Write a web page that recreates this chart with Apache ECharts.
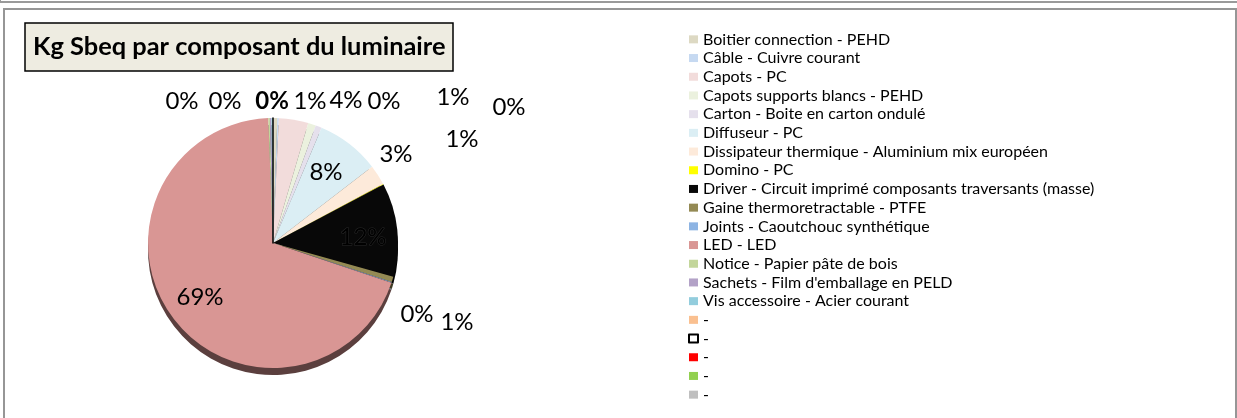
<!DOCTYPE html>
<html><head><meta charset="utf-8">
<script src="https://cdn.jsdelivr.net/npm/echarts@6/dist/echarts.min.js"></script>
<style>
html,body{margin:0;padding:0;background:#fff;width:1237px;height:418px;overflow:hidden;}
#topline{position:absolute;left:0;top:-20px;width:1237px;height:23px;border:1px solid #9a9a9a;border-width:0 0 2px 1px;box-sizing:border-box}
#frame{position:absolute;left:3px;top:8px;width:1234px;height:430px;border:2px solid #969696;box-sizing:border-box}
#chart{position:absolute;left:0;top:0;width:1237px;height:418px}
</style></head>
<body>
<div id="topline"></div><div id="frame"></div><div id="chart"></div>
<script>
// ---- data ----
const titleText = 'Kg Sbeq par composant du luminaire';
const categories = [
  'Boitier connection - PEHD',
  'Câble - Cuivre courant',
  'Capots - PC',
  'Capots supports blancs - PEHD',
  'Carton - Boite en carton ondulé',
  'Diffuseur - PC',
  'Dissipateur thermique - Aluminium mix européen',
  'Domino - PC',
  'Driver - Circuit imprimé composants traversants (masse)',
  'Gaine thermoretractable - PTFE',
  'Joints - Caoutchouc synthétique',
  'LED - LED',
  'Notice - Papier pâte de bois',
  "Sachets - Film d'emballage en PELD",
  'Vis accessoire - Acier courant',
  '-', '- ', '-  ', '-   ', '-    '
];
const values = [0.55, 0.2, 3.8, 1.0, 0.8, 8.2, 2.6, 0.1, 12.1, 0.7, 0.1, 69.2, 0.2, 0.2, 0.2, 0, 0, 0, 0, 0];

// ---- styles / layout ----
const sliceColors = ['#DDD9C3','#C6D9F1','#F2DCDB','#EBF1DE','#E5E0EC','#DBEEF4','#FDEADA','#FFFF00','#080808','#948A54','#8DB4E3','#D99694','#C3D69B','#B3A2C7','#93CDDD','#FAC090','#FFFFFF','#FF0000','#92D050','#BFBFBF'];
// label anchor points (text centres) for each slice label, Excel-like placement
const labelSpots = [[310,101],[384,101],[346,100],[453,97],[462,139],[326,172],[396,154],[509,107],[363,237],[457,322],[417,314],[200,297],[182,101],[225,101],[272,101]];
const boldLabel = 14;
const darkLabel = 8;
const outlinedItem = 16;
const pieCenter = [273, 243];
const pieRadius = 125;
const rimDrop = 7;

function darken(hex, f) {
  const n = parseInt(hex.slice(1), 16);
  const r = Math.round(((n >> 16) & 255) * f), g = Math.round(((n >> 8) & 255) * f), b = Math.round((n & 255) * f);
  return 'rgb(' + r + ',' + g + ',' + b + ')';
}

const mainData = categories.map((name, i) => {
  const item = { name: name, value: values[i], itemStyle: { color: sliceColors[i] } };
  if (i === outlinedItem) item.itemStyle = { color: '#FFFFFF', borderColor: '#000', borderWidth: 1.5 };
  if (i >= labelSpots.length) item.label = { show: false };
  if (i === boldLabel) item.label = { fontWeight: 'bold' };
  if (i === darkLabel) item.label = { color: '#000', textBorderColor: '#2a2a2a', textBorderWidth: 1 };
  return item;
});
const rimData = categories.map((name, i) => ({ name: name, value: values[i], itemStyle: { color: i === outlinedItem ? '#555' : darken(sliceColors[i], 0.42) } }));
const legendData = categories.map((name, i) => {
  const it = { name: name, itemStyle: { color: sliceColors[i] } };
  if (i === outlinedItem) it.itemStyle = { color: '#FFFFFF', borderColor: '#000', borderWidth: 2 };
  return it;
});

const chart = echarts.init(document.getElementById('chart'), null, { renderer: 'canvas' });
chart.setOption({
  animation: false,
  title: {
    text: titleText,
    left: 25, top: 23,
    padding: [7, 8],
    backgroundColor: '#EEECE1',
    borderColor: '#000',
    borderWidth: 1.5,
    textStyle: { fontFamily: 'Lato', fontWeight: 'bold', fontSize: 25.4, color: '#000', lineHeight: 34 }
  },
  legend: {
    orient: 'vertical',
    left: 683, top: 25,
    icon: 'rect',
    itemWidth: 9, itemHeight: 8, itemGap: 0,
    selectedMode: false,
    textStyle: { fontFamily: 'Lato', fontSize: 16, color: '#000', lineHeight: 18.7 },
    data: legendData
  },
  series: [
    {
      type: 'pie', name: 'main', z: 3,
      center: pieCenter, radius: pieRadius,
      startAngle: 90, clockwise: true,
      avoidLabelOverlap: false,
      itemStyle: { borderWidth: 0 },
      label: {
        show: true, position: 'outside',
        fontFamily: 'Lato', fontSize: 24, color: '#000',
        formatter: p => Math.round(p.percent) + '%'
      },
      labelLine: { show: false },
      labelLayout: function (p) {
        const s = labelSpots[p.dataIndex];
        if (!s) return {};
        return { x: s[0], y: s[1], align: 'center', verticalAlign: 'middle' };
      },
      emphasis: { disabled: true },
      data: mainData
    },
    {
      type: 'pie', name: 'rim', z: 1, silent: true,
      center: [pieCenter[0], pieCenter[1] + rimDrop], radius: pieRadius,
      startAngle: 90, clockwise: true,
      label: { show: false }, labelLine: { show: false },
      emphasis: { disabled: true },
      data: rimData
    }
  ]
});
</script>
</body></html>
